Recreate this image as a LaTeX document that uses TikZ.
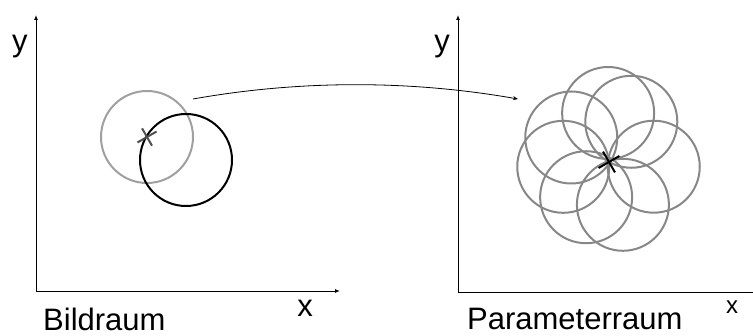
\documentclass[tikz,border=0pt]{standalone}
\usepackage{fontspec}
\setmainfont{Liberation Sans}
\usetikzlibrary{arrows.meta, calc}
\definecolor{lgray}{RGB}{160,160,160}
\definecolor{mgray}{RGB}{135,135,135}
\definecolor{dgray}{RGB}{80,80,80}

\begin{document}
\begin{tikzpicture}[x=1pt,y=-1pt,
  axis/.style={line width=0.9pt,-{Latex[length=5pt,width=4pt]}},
  lbl/.style={font=\fontsize{31}{36}\selectfont,inner sep=0pt,anchor=base},
  ring/.style={line width=2pt,mgray}]
  \useasboundingbox (0,0) rectangle (753,336);
  % Bildraum
  \coordinate (o1) at (36,291);
  \coordinate (ytop1) at (36,15);
  \coordinate (xend1) at (340,291);
  \draw[axis] (o1) -- (ytop1);
  \draw[axis] (o1) -- (xend1);
  \node[lbl] (ylab1) at (20,52) {y};
  \node[lbl] (xlab1) at (305,317) {x};
  \node[lbl,anchor=base west] (name1) at (43,331) {Bildraum};
  \coordinate (p) at (147,137);
  \draw[line width=2pt,lgray] (p) circle (46);
  \draw[line width=2pt,black] (186,160) circle (46);
  \draw[line width=2pt,dgray] ($(p)+(-30:11)$) -- ($(p)+(150:11)$);
  \draw[line width=2pt,dgray] ($(p)+(60:10)$) -- ($(p)+(240:10)$);
  % Parameterraum
  \coordinate (o2) at (458,292);
  \coordinate (ytop2) at (458,15);
  \coordinate (xend2) at (753,292);
  \draw[axis] (o2) -- (ytop2);
  \draw[line width=0.9pt] (o2) -- (xend2);
  \node[lbl] (ylab2) at (442,52) {y};
  \node[lbl,font=\fontsize{24}{28}\selectfont] (xlab2) at (732,314) {x};
  \node[lbl,anchor=base west] (name2) at (467,330) {Parameterraum};
  \coordinate (c) at (609,162);
  \foreach \a/\d in {-147/45,-91/49,-61/46,6/45,72/45,123/42,174/46}
    \draw[ring] ($(c)+(\a:\d)$) circle (46);
  \draw[line width=2pt,black] ($(c)+(-30:12)$) -- ($(c)+(150:12)$);
  \draw[line width=2pt,black] ($(c)+(60:12)$) -- ($(c)+(240:12)$);
  % Abbildung
  \coordinate (src) at (193,99);
  \coordinate (dst) at (518,99);
  \draw[line width=0.8pt,-{Stealth[length=5pt,width=4pt]}]
    (src) .. controls (300,80) and (410,80) .. (dst);
\end{tikzpicture}
\end{document}
